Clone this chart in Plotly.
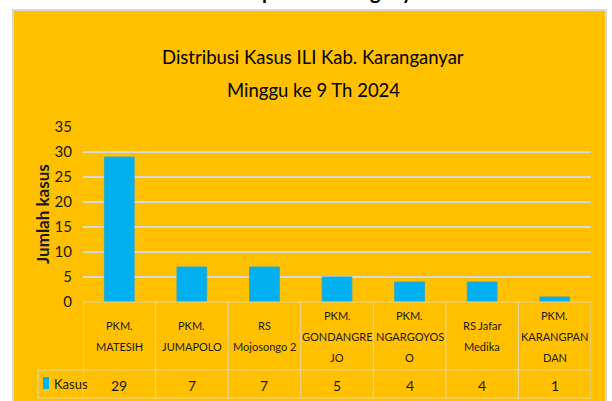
import plotly.graph_objects as go

categories = ["PKM.<br>MATESIH", "PKM.<br>JUMAPOLO", "RS<br>Mojosongo 2",
              "PKM.<br>GONDANGRE<br>JO", "PKM.<br>NGARGOYOS<br>O",
              "RS Jafar<br>Medika", "PKM.<br>KARANGPAN<br>DAN"]
kasus = [29, 7, 7, 5, 4, 4, 1]
series_name = "Kasus"
y_ticks = [0, 5, 10, 15, 20, 25, 30, 35]
title_lines = ["Distribusi Kasus ILI Kab. Karanganyar", "Minggu ke 9 Th 2024"]
page_heading = "D. Kabupaten Karanganyar"
y_title = "Jumlah kasus"

W_FIG, H_FIG = 612, 401
L, R, T, B = 83, 591, 127, 302
PW, PH = R - L, B - T
FONT = "Lato, Liberation Sans, sans-serif"
ORANGE = "#FFC000"
BLUE = "#00B0F0"
TXT = "#1a1a1a"
TBL = "#E3D3A0"

def px(x):
    return (x - L) / PW

def py(y):
    return (B - y) / PH

xs = list(range(len(categories)))

fig = go.Figure()
fig.add_trace(go.Bar(x=xs, y=kasus, name=series_name, width=0.41,
                     marker=dict(color=BLUE, line=dict(color="#3AA6C4", width=1)),
                     showlegend=False, hoverinfo="skip"))

shapes = []
shapes.append(dict(type="rect", xref="paper", yref="paper", x0=px(13), x1=px(606),
                   y0=py(10), y1=py(420), fillcolor=ORANGE,
                   line=dict(color="#D9D9D9", width=2), layer="below"))
shapes.append(dict(type="line", xref="x", yref="paper", x0=-0.5, x1=len(xs) - 0.5,
                   y0=py(302), y1=py(302), line=dict(color=TBL, width=1.2)))
for yy in (370, 398):
    shapes.append(dict(type="line", xref="paper", yref="paper", x0=px(38), x1=1,
                       y0=py(yy), y1=py(yy), line=dict(color=TBL, width=1.2)))
for i in range(len(xs) + 1):
    shapes.append(dict(type="line", xref="x", yref="paper", x0=i - 0.5, x1=i - 0.5,
                       y0=py(302), y1=py(398), line=dict(color=TBL, width=1.2)))
shapes.append(dict(type="line", xref="paper", yref="paper", x0=px(38), x1=px(38),
                   y0=py(370), y1=py(398), line=dict(color=TBL, width=1.2)))
shapes.append(dict(type="rect", xref="paper", yref="paper", x0=px(43), x1=px(49),
                   y0=py(389), y1=py(377), fillcolor=BLUE, line=dict(width=0)))

ann = []
ann.append(dict(text="<b>" + page_heading + "</b>", xref="paper", yref="paper",
                x=px(310), y=py(5), xanchor="center", yanchor="bottom", showarrow=False,
                font=dict(family=FONT, size=20, color="#000")))
for line, yc in zip(title_lines, (57, 90)):
    ann.append(dict(text=line, xref="paper", yref="paper", x=px(313), y=py(yc),
                    xanchor="center", yanchor="middle", showarrow=False,
                    font=dict(family=FONT, size=18.5, color="#000")))
ann.append(dict(text="<b>" + y_title + "</b>", xref="paper", yref="paper",
                x=px(42), y=py(214), textangle=-90, xanchor="center", yanchor="middle",
                showarrow=False, font=dict(family=FONT, size=17, color=TXT)))
for xi, cat in zip(xs, categories):
    parts = cat.split("<br>")
    n = len(parts)
    for k, p in enumerate(parts):
        yc = 336 + (k - (n - 1) / 2) * 21
        ann.append(dict(text=p, xref="x", yref="paper", x=xi, y=py(yc),
                        xanchor="center", yanchor="middle", showarrow=False,
                        font=dict(family=FONT, size=11, color=TXT)))
for xi, v in zip(xs, kasus):
    ann.append(dict(text=str(v), xref="x", yref="paper", x=xi, y=py(385),
                    xanchor="center", yanchor="middle", showarrow=False,
                    font=dict(family=FONT, size=14, color=TXT)))
ann.append(dict(text=series_name, xref="paper", yref="paper", x=px(52), y=py(384),
                xanchor="left", yanchor="middle", showarrow=False,
                font=dict(family=FONT, size=13, color=TXT)))

fig.update_layout(
    width=W_FIG, height=H_FIG,
    margin=dict(l=L, r=W_FIG - R, t=T, b=H_FIG - B, autoexpand=False),
    paper_bgcolor="white", plot_bgcolor="rgba(0,0,0,0)",
    shapes=shapes, annotations=ann,
    xaxis=dict(range=[-0.5, len(xs) - 0.5], showticklabels=False, showgrid=False,
               zeroline=False, showline=False, fixedrange=True),
    yaxis=dict(range=[0, 35], tickvals=y_ticks, showgrid=True, gridcolor="#D9D9D9",
               gridwidth=1.5, zeroline=False, showline=False, ticks="",
               ticklabelstandoff=10, fixedrange=True,
               tickfont=dict(family=FONT, size=15, color=TXT)),
    font=dict(family=FONT),
)

fig.write_html("out.html", config={"displayModeBar": False},
               post_script="document.body.style.margin='0';document.body.style.overflow='hidden';")
